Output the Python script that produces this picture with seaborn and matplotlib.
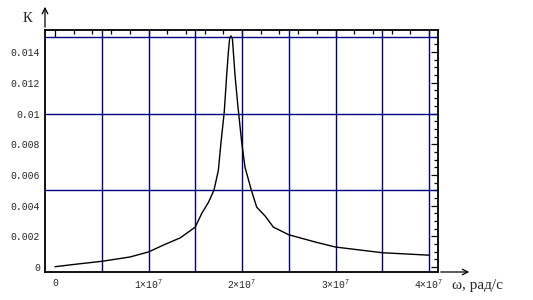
import matplotlib
matplotlib.use("Agg")
import matplotlib.pyplot as plt
import seaborn as sns
import pandas as pd
from matplotlib.ticker import MultipleLocator, FixedLocator

# ---- data ----
omega = [0.0, 0.25e7, 0.5e7, 0.8e7, 1.0e7, 1.16e7, 1.34e7, 1.5e7, 1.57e7, 1.64e7,
         1.70e7, 1.747e7, 1.775e7, 1.81e7, 1.836e7, 1.854e7, 1.868e7, 1.882e7,
         1.897e7, 1.925e7, 1.954e7, 1.997e7, 2.032e7, 2.10e7, 2.157e7, 2.25e7,
         2.335e7, 2.5e7, 2.8e7, 3.0e7, 3.5e7, 4.0e7]
K = [0.00002, 0.0002, 0.00037, 0.00065, 0.00098, 0.00143, 0.0019, 0.0026, 0.0035,
     0.0042, 0.0050, 0.0063, 0.0081, 0.0101, 0.0125, 0.0140, 0.0149, 0.01505,
     0.0149, 0.0125, 0.0106, 0.0081, 0.0065, 0.0050, 0.0039, 0.0033,
     0.0026, 0.0021, 0.0016, 0.0013, 0.00093, 0.00077]

x_ticks = [0, 1e7, 2e7, 3e7, 4e7]
x_labels = ["0", r"$1{\times}10^{7}$", r"$2{\times}10^{7}$", r"$3{\times}10^{7}$", r"$4{\times}10^{7}$"]
y_ticks = [0, 0.002, 0.004, 0.006, 0.008, 0.01, 0.012, 0.014]
y_labels = ["0", "0.002", "0.004", "0.006", "0.008", "0.01", "0.012", "0.014"]
x_grid = [0.5e7, 1.0e7, 1.5e7, 2.0e7, 2.5e7, 3.0e7, 3.5e7, 4.0e7]
y_grid = [0.005, 0.01, 0.015]

df = pd.DataFrame({"omega": omega, "K": K})

sns.set_style("white")
plt.rcParams["mathtext.fontset"] = "custom"
plt.rcParams["mathtext.rm"] = "Liberation Mono"
plt.rcParams["mathtext.it"] = "Liberation Mono"

fig = plt.figure(figsize=(5.33, 3.0), dpi=100)
ax = fig.add_axes([45 / 533, 1 - 272 / 300, (438 - 45) / 533, (272 - 30) / 300])

grid_c = "#000080"
for gx in x_grid:
    ax.axvline(gx, color=grid_c, lw=1.0, zorder=1)
for gy in y_grid:
    ax.axhline(gy, color=grid_c, lw=1.0, zorder=1)

sns.lineplot(data=df, x="omega", y="K", ax=ax, color="black", lw=1.0, zorder=3)

ax.set_xlim(-1.07e6, 4.096e7)
ax.set_ylim(-0.000326, 0.01544)
ax.set_xlabel("")
ax.set_ylabel("")

ax.xaxis.set_major_locator(FixedLocator(x_ticks))
ax.set_xticklabels(x_labels)
ax.xaxis.set_minor_locator(MultipleLocator(2e6))
ax.yaxis.set_major_locator(FixedLocator(y_ticks))
ax.set_yticklabels(y_labels)
ax.yaxis.set_minor_locator(MultipleLocator(0.0005))

ax.tick_params(axis="both", which="both", direction="in", top=True, right=True,
               color="black", width=0.9)
ax.tick_params(axis="both", which="major", length=5, labelsize=7)
ax.tick_params(axis="y", which="major", pad=3.5)
ax.tick_params(axis="x", which="major", pad=4)
ax.tick_params(axis="both", which="minor", length=3)
for lab in ax.get_xticklabels() + ax.get_yticklabels():
    lab.set_fontfamily("Liberation Mono")
    lab.set_fontsize(7)

for sp in ax.spines.values():
    sp.set_color("black")
    sp.set_linewidth(1.3)

# axis arrows and labels
fig.add_artist(matplotlib.patches.FancyArrowPatch(
    (45 / 533, 1 - 30 / 300), (45 / 533, 1 - 4 / 300), transform=fig.transFigure,
    arrowstyle="->,head_length=4,head_width=2", color="black", lw=0.9, mutation_scale=1))
fig.add_artist(matplotlib.patches.FancyArrowPatch(
    (438 / 533, 1 - 272 / 300), (472 / 533, 1 - 272 / 300), transform=fig.transFigure,
    arrowstyle="->,head_length=4,head_width=2", color="black", lw=0.9, mutation_scale=1))
fig.text(27 / 533, 1 - 18 / 300, "К", family="Liberation Serif", fontsize=10.5,
         ha="center", va="center")
fig.text(452 / 533, 1 - 285 / 300, "ω, рад/с", family="Liberation Serif", fontsize=11,
         ha="left", va="center")

fig.savefig("out.png", dpi=100)
